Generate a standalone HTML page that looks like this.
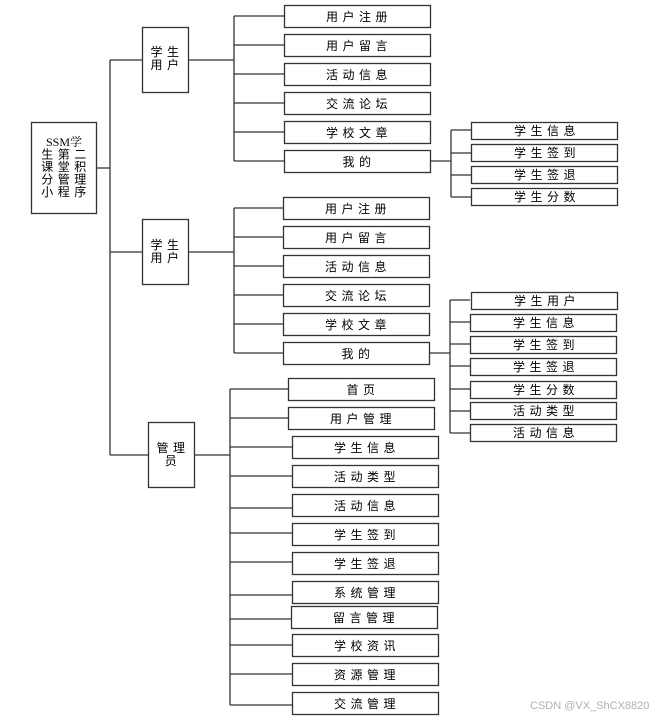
<!DOCTYPE html>
<html><head><meta charset="utf-8"><style>
html,body{margin:0;padding:0;background:#fff;}
svg{display:block}
text{font-family:"Liberation Sans","Noto Sans CJK SC",sans-serif;font-size:12px;fill:#000;}
.t{text-anchor:middle;letter-spacing:4.5px}
</style></head><body>
<svg width="664" height="719" viewBox="0 0 664 719" xmlns="http://www.w3.org/2000/svg">
<g stroke="#333" stroke-width="1.3" fill="none">
<!-- root -->
<rect x="31.5" y="122.5" width="65" height="91"/>
<line x1="96" y1="168" x2="110" y2="168"/>
<line x1="110" y1="60" x2="110" y2="455"/>
<line x1="110" y1="60" x2="142" y2="60"/>
<line x1="110" y1="252" x2="142" y2="252"/>
<line x1="110" y1="455" x2="148" y2="455"/>
<!-- student 1 -->
<rect x="142.5" y="27.5" width="46" height="65"/>
<line x1="189" y1="60" x2="234" y2="60"/>
<line x1="234" y1="16" x2="234" y2="161"/>
<line x1="234" y1="16" x2="284" y2="16"/>
<line x1="234" y1="45" x2="284" y2="45"/>
<line x1="234" y1="74" x2="284" y2="74"/>
<line x1="234" y1="103" x2="284" y2="103"/>
<line x1="234" y1="132" x2="284" y2="132"/>
<line x1="234" y1="161" x2="284" y2="161"/>
<rect x="284.5" y="5.5" width="146" height="22"/>
<rect x="284.5" y="34.5" width="146" height="22"/>
<rect x="284.5" y="63.5" width="146" height="22"/>
<rect x="284.5" y="92.5" width="146" height="22"/>
<rect x="284.5" y="121.5" width="146" height="22"/>
<rect x="284.5" y="150.5" width="146" height="22"/>
<line x1="430" y1="161" x2="451" y2="161"/>
<line x1="451" y1="130" x2="451" y2="197"/>
<line x1="451" y1="130" x2="471" y2="130"/>
<line x1="451" y1="153" x2="471" y2="153"/>
<line x1="451" y1="175" x2="471" y2="175"/>
<line x1="451" y1="197" x2="471" y2="197"/>
<rect x="471.5" y="122.5" width="146" height="17"/>
<rect x="471.5" y="144.5" width="146" height="17"/>
<rect x="471.5" y="166.5" width="146" height="17"/>
<rect x="471.5" y="188.5" width="146" height="17"/>
<!-- student 2 -->
<rect x="142.5" y="219.5" width="46" height="65"/>
<line x1="188" y1="252" x2="234" y2="252"/>
<line x1="234" y1="208" x2="234" y2="353"/>
<line x1="234" y1="208" x2="283" y2="208"/>
<line x1="234" y1="237" x2="283" y2="237"/>
<line x1="234" y1="266" x2="283" y2="266"/>
<line x1="234" y1="295" x2="283" y2="295"/>
<line x1="234" y1="324" x2="283" y2="324"/>
<line x1="234" y1="353" x2="283" y2="353"/>
<rect x="283.5" y="197.5" width="146" height="22"/>
<rect x="283.5" y="226.5" width="146" height="22"/>
<rect x="283.5" y="255.5" width="146" height="22"/>
<rect x="283.5" y="284.5" width="146" height="22"/>
<rect x="283.5" y="313.5" width="146" height="22"/>
<rect x="283.5" y="342.5" width="146" height="22"/>
<line x1="430" y1="353" x2="450" y2="353"/>
<line x1="450" y1="300" x2="450" y2="433"/>
<line x1="450" y1="300" x2="470" y2="300"/>
<line x1="450" y1="322" x2="470" y2="322"/>
<line x1="450" y1="344" x2="470" y2="344"/>
<line x1="450" y1="366" x2="470" y2="366"/>
<line x1="450" y1="389" x2="470" y2="389"/>
<line x1="450" y1="411" x2="470" y2="411"/>
<line x1="450" y1="433" x2="470" y2="433"/>
<rect x="471.5" y="292.5" width="146" height="17"/>
<rect x="470.5" y="314.5" width="146" height="17"/>
<rect x="470.5" y="336.5" width="146" height="17"/>
<rect x="470.5" y="358.5" width="146" height="17"/>
<rect x="470.5" y="381.5" width="146" height="17"/>
<rect x="470.5" y="402.5" width="146" height="17"/>
<rect x="470.5" y="424.5" width="146" height="17"/>
<!-- admin -->
<rect x="148.5" y="422.5" width="46" height="65"/>
<line x1="195" y1="455" x2="230" y2="455"/>
<line x1="230" y1="389" x2="230" y2="705"/>
<line x1="230" y1="389" x2="288" y2="389"/>
<line x1="230" y1="418" x2="288" y2="418"/>
<line x1="230" y1="447" x2="292" y2="447"/>
<line x1="230" y1="476" x2="292" y2="476"/>
<line x1="230" y1="508" x2="292" y2="508"/>
<line x1="230" y1="533" x2="292" y2="533"/>
<line x1="230" y1="562" x2="292" y2="562"/>
<line x1="230" y1="595" x2="292" y2="595"/>
<line x1="230" y1="619" x2="292" y2="619"/>
<line x1="230" y1="645" x2="292" y2="645"/>
<line x1="230" y1="674" x2="292" y2="674"/>
<line x1="230" y1="705" x2="292" y2="705"/>
<rect x="288.5" y="378.5" width="146" height="22"/>
<rect x="288.5" y="407.5" width="146" height="22"/>
<rect x="292.5" y="436.5" width="146" height="22"/>
<rect x="292.5" y="465.5" width="146" height="22"/>
<rect x="292.5" y="494.5" width="146" height="22"/>
<rect x="292.5" y="523.5" width="146" height="22"/>
<rect x="292.5" y="552.5" width="146" height="22"/>
<rect x="292.5" y="581.5" width="146" height="22"/>
<rect x="291.5" y="606.5" width="146" height="22"/>
<rect x="292.5" y="634.5" width="146" height="22"/>
<rect x="292.5" y="663.5" width="146" height="22"/>
<rect x="292.5" y="692.5" width="146" height="22"/>
</g>
<g>
<text x="64" y="146" text-anchor="middle" style="font-family:'Liberation Serif','Noto Serif CJK SC',serif">SSM学</text>
<text class="t" x="66" y="158.5">生第二</text>
<text class="t" x="66" y="171">课堂积</text>
<text class="t" x="66" y="183.5">分管理</text>
<text class="t" x="66" y="196">小程序</text>
<text class="t" x="167" y="56">学生</text><text class="t" x="167" y="69">用户</text>
<text class="t" x="167" y="249">学生</text><text class="t" x="167" y="262">用户</text>
<text class="t" x="173" y="452">管理</text><text class="t" x="173" y="465">员</text>

<text class="t" x="359" y="21">用户注册</text>
<text class="t" x="359" y="50">用户留言</text>
<text class="t" x="359" y="79">活动信息</text>
<text class="t" x="359" y="108">交流论坛</text>
<text class="t" x="359" y="137">学校文章</text>
<text class="t" x="359" y="166">我的</text>
<text class="t" x="547" y="135">学生信息</text>
<text class="t" x="547" y="157">学生签到</text>
<text class="t" x="547" y="179">学生签退</text>
<text class="t" x="547" y="201">学生分数</text>

<text class="t" x="358" y="213">用户注册</text>
<text class="t" x="358" y="242">用户留言</text>
<text class="t" x="358" y="271">活动信息</text>
<text class="t" x="358" y="300">交流论坛</text>
<text class="t" x="358" y="329">学校文章</text>
<text class="t" x="358" y="358">我的</text>
<text class="t" x="547" y="305">学生用户</text>
<text class="t" x="546" y="327">学生信息</text>
<text class="t" x="546" y="349">学生签到</text>
<text class="t" x="546" y="371">学生签退</text>
<text class="t" x="546" y="394">学生分数</text>
<text class="t" x="546" y="415">活动类型</text>
<text class="t" x="546" y="437">活动信息</text>

<text class="t" x="363" y="394">首页</text>
<text class="t" x="363" y="423">用户管理</text>
<text class="t" x="367" y="452">学生信息</text>
<text class="t" x="367" y="481">活动类型</text>
<text class="t" x="367" y="510">活动信息</text>
<text class="t" x="367" y="539">学生签到</text>
<text class="t" x="367" y="568">学生签退</text>
<text class="t" x="367" y="597">系统管理</text>
<text class="t" x="366" y="622">留言管理</text>
<text class="t" x="367" y="650">学校资讯</text>
<text class="t" x="367" y="679">资源管理</text>
<text class="t" x="367" y="708">交流管理</text>
<text x="530" y="709" style="font-size:11px;fill:#b0b0b0">CSDN @VX_ShCX8820</text>
</g>
</svg>
</body></html>
